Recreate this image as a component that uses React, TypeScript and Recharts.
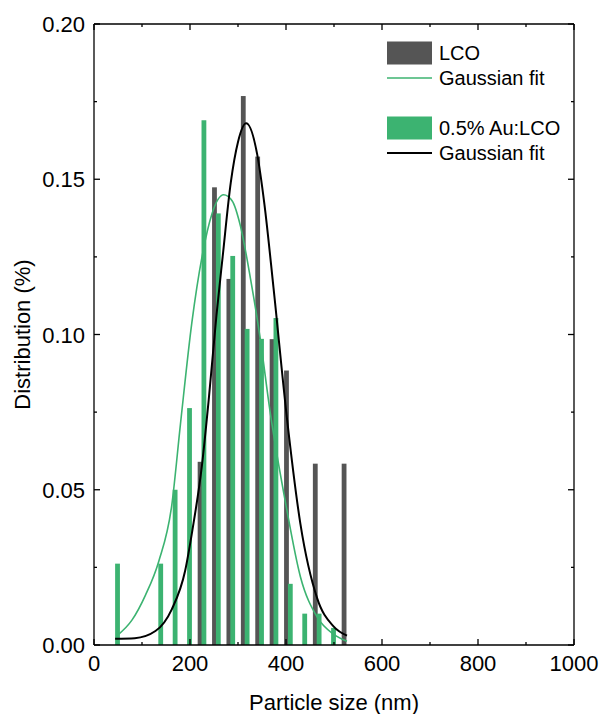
import { Bar, ComposedChart, Label, Line, XAxis, YAxis } from "recharts";

// bar histograms (particle size in nm, distribution)
const lcoSize = [221, 251, 281, 311, 341, 371, 401, 461, 521];
const lcoDist = [0.059, 0.1474, 0.1179, 0.1768, 0.1573, 0.0985, 0.0884, 0.0584, 0.0584];
const auSize = [49, 139, 169, 199, 229, 259, 289, 319, 349, 379, 409, 439, 469, 499];
const auDist = [0.0262, 0.0262, 0.05, 0.0763, 0.169, 0.139, 0.1253, 0.1018, 0.0986, 0.1053, 0.0197, 0.0101, 0.0101, 0.0055];

// fitted curves
const greenFitX = [48, 79, 107, 135, 162, 180, 204, 225, 246, 270, 288, 305, 326, 346, 367, 400, 430, 465, 499, 527];
const greenFitY = [0.003, 0.008, 0.016, 0.027, 0.045, 0.071, 0.104, 0.125, 0.139, 0.145, 0.143, 0.135, 0.118, 0.099, 0.075, 0.045, 0.022, 0.009, 0.0035, 0.0012];
const blackFitX = [44, 85, 128, 162, 190, 205, 225, 239, 255, 268, 285, 300, 317, 340, 355, 374, 402, 430, 465, 499, 527];
const blackFitY = [0.002, 0.0022, 0.0045, 0.0115, 0.024, 0.037, 0.058, 0.079, 0.106, 0.125, 0.149, 0.162, 0.168, 0.158, 0.142, 0.115, 0.073, 0.039, 0.015, 0.006, 0.003];

const xTicks = [0, 100, 200, 300, 400, 500, 600, 700, 800, 900, 1000];
const xLabelTicks = [0, 200, 400, 600, 800, 1000];
const yTicks = [0, 0.025, 0.05, 0.075, 0.1, 0.125, 0.15, 0.175, 0.2];
const yLabelTicks = [0, 0.05, 0.1, 0.15, 0.2];

const GRAY = "#555555";
const GREEN = "#3cb371";
const FONT = '"Liberation Sans", Arial, sans-serif';

type Row = { size: number; bar?: number; kind?: "lco" | "au"; fitGreen?: number; fitBlack?: number };

const rowMap = new Map<number, Row>();
const rowAt = (s: number) => {
  if (!rowMap.has(s)) rowMap.set(s, { size: s });
  return rowMap.get(s)!;
};
lcoSize.forEach((s, i) => {
  const r = rowAt(s);
  r.bar = lcoDist[i];
  r.kind = "lco";
});
auSize.forEach((s, i) => {
  const r = rowAt(s);
  r.bar = auDist[i];
  r.kind = "au";
});
greenFitX.forEach((s, i) => (rowAt(s).fitGreen = greenFitY[i]));
blackFitX.forEach((s, i) => (rowAt(s).fitBlack = blackFitY[i]));
const rows = [...rowMap.values()].sort((a, b) => a.size - b.size);

const frame = { stroke: "#000", strokeWidth: 1.3 };

function BarShape(p: any) {
  const { x, y, width, height, payload } = p;
  if (payload?.bar == null || !height) return <g />;
  const cx = x + width / 2;
  return <rect x={cx - 2.4} y={y} width={4.8} height={height} fill={payload.kind === "lco" ? GRAY : GREEN} />;
}

function BottomTick(p: any) {
  const { x, y, payload } = p;
  const major = xLabelTicks.includes(payload.value);
  return (
    <g>
      <line x1={x} y1={y} x2={x} y2={y - (major ? 6 : 3)} stroke="#000" strokeWidth={1.3} />
      {major && (
        <text x={x} y={y + 26} textAnchor="middle" fontSize={22} fill="#000">
          {payload.value}
        </text>
      )}
    </g>
  );
}

function TopTick(p: any) {
  const { x, y, payload } = p;
  const major = xLabelTicks.includes(payload.value);
  return <line x1={x} y1={y} x2={x} y2={y + (major ? 6 : 3)} stroke="#000" strokeWidth={1.3} />;
}

function LeftTick(p: any) {
  const { x, y, payload } = p;
  const major = yLabelTicks.includes(payload.value);
  return (
    <g>
      <line x1={x} y1={y} x2={x + (major ? 6 : 3)} y2={y} stroke="#000" strokeWidth={1.3} />
      {major && (
        <text x={x - 9} y={y + 8} textAnchor="end" fontSize={22} fill="#000">
          {payload.value.toFixed(2)}
        </text>
      )}
    </g>
  );
}

function RightTick(p: any) {
  const { x, y, payload } = p;
  const major = yLabelTicks.includes(payload.value);
  return <line x1={x} y1={y} x2={x - (major ? 6 : 3)} y2={y} stroke="#000" strokeWidth={1.3} />;
}

function PlotLegend() {
  const items = [
    { type: "box", color: GRAY, label: "LCO", cy: 53 },
    { type: "line", color: GREEN, label: "Gaussian fit", cy: 78 },
    { type: "box", color: GREEN, label: "0.5% Au:LCO", cy: 128 },
    { type: "line", color: "#000", label: "Gaussian fit", cy: 153 },
  ];
  return (
    <svg width={604} height={714} style={{ position: "absolute", left: 0, top: 0, pointerEvents: "none" }}>
      {items.map((it, i) => (
        <g key={i}>
          {it.type === "box" ? (
            <rect x={387} y={it.cy - 11.5} width={45} height={23} fill={it.color} />
          ) : (
            <line x1={387} x2={432} y1={it.cy} y2={it.cy} stroke={it.color} strokeWidth={it.color === "#000" ? 2 : 1.6} />
          )}
          <text x={439} y={it.cy + 7} fontSize={20} fill="#000" fontFamily={FONT}>
            {it.label}
          </text>
        </g>
      ))}
    </svg>
  );
}

export default function App() {
  return (
    <div style={{ position: "absolute", left: 0, top: 0, width: 604, height: 714, background: "#fff", fontFamily: FONT }}>
      <ComposedChart width={604} height={714} data={rows} margin={{ top: 23, right: 29, bottom: 0, left: 0 }}>
        <XAxis
          dataKey="size"
          type="number"
          domain={[0, 1000]}
          ticks={xTicks}
          interval={0}
          height={69}
          tickSize={0}
          tickMargin={0}
          tickLine={false}
          axisLine={frame}
          tick={(p: any) => <BottomTick {...p} />}
          allowDataOverflow
        >
          <Label value="Particle size (nm)" position="insideBottom" offset={4} fontSize={22} fill="#000" />
        </XAxis>
        <XAxis
          xAxisId="top"
          orientation="top"
          dataKey="size"
          type="number"
          domain={[0, 1000]}
          ticks={xTicks}
          interval={0}
          height={1}
          tickSize={0}
          tickMargin={0}
          tickLine={false}
          axisLine={frame}
          tick={(p: any) => <TopTick {...p} />}
          allowDataOverflow
        />
        <YAxis
          type="number"
          domain={[0, 0.2]}
          ticks={yTicks}
          interval={0}
          width={94}
          tickSize={0}
          tickMargin={0}
          tickLine={false}
          axisLine={frame}
          tick={(p: any) => <LeftTick {...p} />}
          allowDataOverflow
        >
          <Label
            value="Distribution (%)"
            angle={-90}
            position="insideLeft"
            offset={22}
            fontSize={22}
            fill="#000"
            style={{ textAnchor: "middle" }}
          />
        </YAxis>
        <YAxis
          yAxisId="right"
          orientation="right"
          type="number"
          domain={[0, 0.2]}
          ticks={yTicks}
          interval={0}
          width={1}
          tickSize={0}
          tickMargin={0}
          tickLine={false}
          axisLine={frame}
          tick={(p: any) => <RightTick {...p} />}
          allowDataOverflow
        />
        <Bar dataKey="bar" shape={BarShape} isAnimationActive={false} />
        <Line type="monotone" dataKey="fitGreen" stroke={GREEN} strokeWidth={1.6} dot={false} connectNulls isAnimationActive={false} />
        <Line type="monotone" dataKey="fitBlack" stroke="#000" strokeWidth={2} dot={false} connectNulls isAnimationActive={false} />
      </ComposedChart>
      <PlotLegend />
    </div>
  );
}
